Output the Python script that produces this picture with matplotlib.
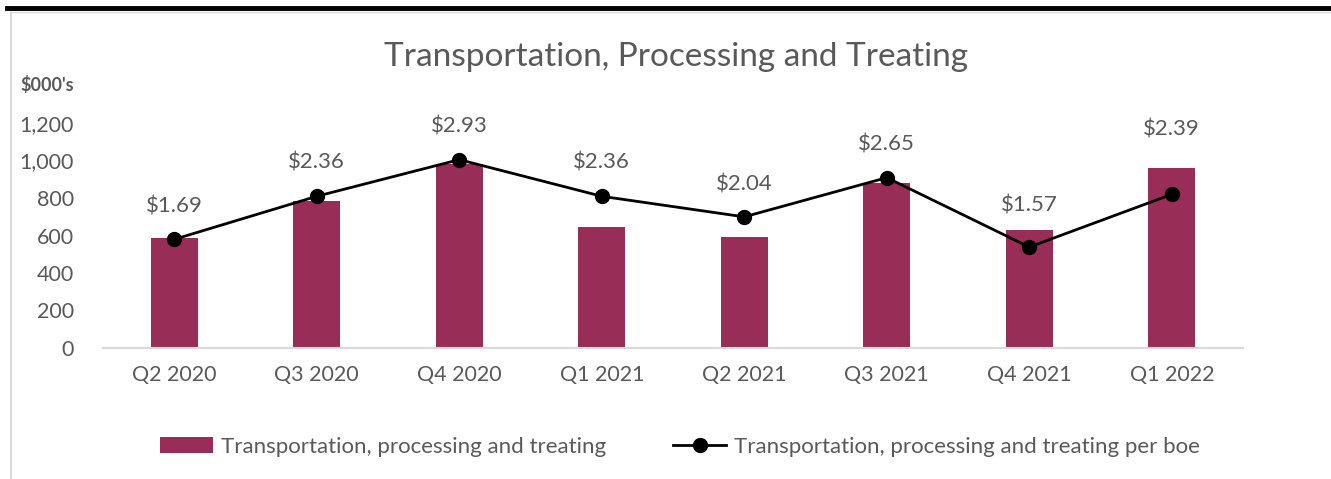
import matplotlib
matplotlib.use('Agg')
import matplotlib.pyplot as plt
from matplotlib.lines import Line2D
from matplotlib.patches import Patch

quarters = ['Q2 2020', 'Q3 2020', 'Q4 2020', 'Q1 2021', 'Q2 2021', 'Q3 2021', 'Q4 2021', 'Q1 2022']
tpt_cost = [587, 784, 981, 645, 592, 880, 629, 960]
tpt_per_boe = [1.69, 2.36, 2.93, 2.36, 2.04, 2.65, 1.57, 2.39]

BAR = '#982D57'
GREY = '#595959'
FONT = ['Lato', 'DejaVu Sans']
# label lift above the marker, in points (last two were moved clear of the bars)
label_lift = [24, 24, 24, 24, 23, 24, 30, 47]

W, H = 1331, 479
fig = plt.figure(figsize=(W / 100, H / 100), dpi=100)

# frame lines of the screenshot
fig.add_artist(Line2D([7 / W, 1], [1 - 8 / H, 1 - 8 / H], color='black', lw=3.5))
fig.add_artist(Line2D([11 / W, 1], [1 - 12 / H, 1 - 12 / H], color='#d9d9d9', lw=1))
fig.add_artist(Line2D([11 / W, 11 / W], [0, 1 - 12 / H], color='#d9d9d9', lw=1.5))

ax = fig.add_axes([103 / W, (H - 348) / H, (1243 - 103) / W, 225 / H])
x = range(len(quarters))
ax.bar(x, tpt_cost, width=0.33, color=BAR, zorder=2)
ax.set_xlim(-0.5, len(quarters) - 0.5)
ax.set_ylim(0, 1200)
ax.set_yticks(range(0, 1201, 200))
ax.set_yticklabels([f'{v:,}' for v in range(0, 1201, 200)])
ax.set_xticks(list(x))
ax.set_xticklabels(quarters)
for s in ['top', 'right', 'left']:
    ax.spines[s].set_visible(False)
ax.spines['bottom'].set_color('#d9d9d9')
ax.spines['bottom'].set_linewidth(1.5)
ax.tick_params(length=0, colors=GREY, labelsize=15.5)
ax.tick_params(axis='x', pad=12)
ax.tick_params(axis='y', pad=21)
for lab in ax.get_xticklabels() + ax.get_yticklabels():
    lab.set_family(FONT)

ax2 = ax.twinx()
ax2.plot(x, tpt_per_boe, color='black', lw=2, marker='o', markersize=10, zorder=3)
ax2.set_ylim(0, 3.5)
ax2.axis('off')
for i, v in enumerate(tpt_per_boe):
    ax2.annotate(f'${v:.2f}', (i, v), xytext=(0, label_lift[i]), textcoords='offset points',
                 ha='center', va='center', fontsize=16, color=GREY, family=FONT)

fig.text(676 / W, 1 - 57 / H, 'Transportation, Processing and Treating', ha='center', va='center',
         fontsize=24, color=GREY, family=FONT)
fig.text(20 / W, 1 - 85 / H, "$000's", ha='left', va='center', fontsize=13, fontweight='bold',
         color=GREY, family=FONT)

handles = [Patch(facecolor=BAR, label='Transportation, processing and treating'),
           Line2D([0], [0], color='black', lw=2, marker='o', markersize=10,
                  label='Transportation, processing and treating per boe')]
fig.legend(handles=handles, loc='center', bbox_to_anchor=(680 / W, 1 - 447 / H), ncol=2,
           frameon=False, prop={'family': FONT, 'size': 16}, labelcolor=GREY,
           handlelength=2.4, handleheight=0.75, columnspacing=3, handletextpad=0.35)

fig.savefig('out.png', dpi=100)
